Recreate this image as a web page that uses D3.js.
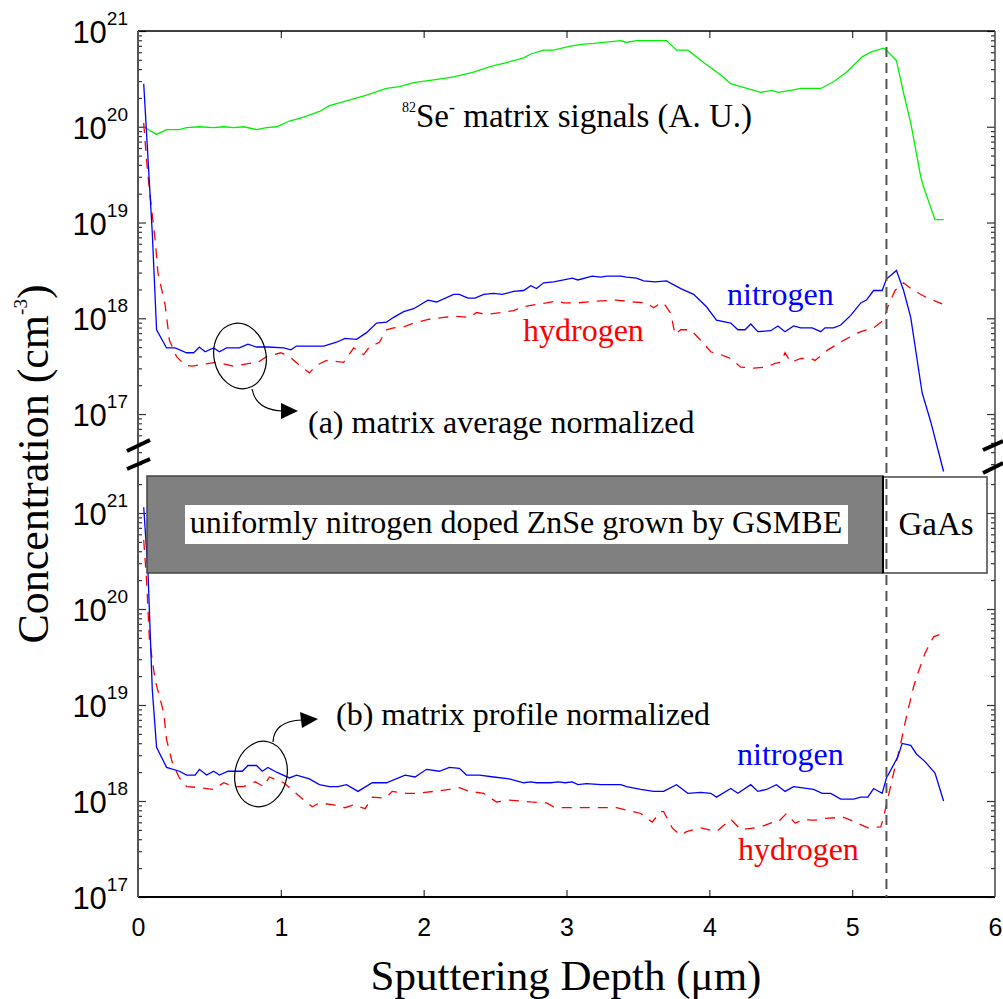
<!DOCTYPE html>
<html>
<head>
<meta charset="utf-8">
<script src="https://cdn.jsdelivr.net/npm/d3@7"></script>
<style>
  body { margin: 0; background: #fff; }
</style>
</head>
<body>
<svg id="chart" width="1003" height="999"></svg>
<script>
// values: depth in um, log10 of concentration (cm^-3)
var seDepth = [0.04,0.13,0.20,0.29,0.34,0.43,0.53,0.60,0.67,0.74,0.83,0.90,0.97,1.06,1.16,1.27,1.34,1.46,1.60,1.74,1.83,1.93,2.07,2.21,2.35,2.47,2.58,2.70,2.75,2.84,2.91,3.02,3.10,3.19,3.38,3.42,3.49,3.70,3.77,3.85,3.96,4.08,4.15,4.22,4.36,4.44,4.48,4.57,4.64,4.78,4.87,4.96,5.07,5.13,5.22,5.24,5.31,5.36,5.41,5.48,5.50,5.58,5.64];
var seLog   = [20.00,19.92,19.97,19.97,19.99,20.00,19.99,20.00,19.99,20.00,19.97,19.99,20.00,20.06,20.10,20.16,20.22,20.27,20.33,20.40,20.42,20.46,20.49,20.52,20.57,20.63,20.67,20.72,20.76,20.80,20.80,20.84,20.86,20.87,20.90,20.88,20.90,20.90,20.80,20.80,20.67,20.54,20.45,20.42,20.36,20.38,20.36,20.38,20.40,20.40,20.47,20.57,20.73,20.78,20.82,20.80,20.69,20.35,20.04,19.48,19.37,19.03,19.03];

var avgNDepth = [0.04,0.10,0.13,0.20,0.26,0.34,0.39,0.43,0.47,0.53,0.57,0.62,0.71,0.77,0.83,0.91,1.02,1.07,1.11,1.20,1.30,1.39,1.45,1.53,1.60,1.67,1.74,1.79,1.86,1.93,2.03,2.09,2.21,2.25,2.31,2.36,2.42,2.49,2.55,2.63,2.70,2.75,2.79,2.84,2.91,2.98,3.04,3.08,3.18,3.24,3.28,3.38,3.42,3.49,3.54,3.62,3.70,3.80,3.89,3.98,4.05,4.15,4.20,4.25,4.29,4.34,4.43,4.48,4.53,4.59,4.64,4.72,4.78,4.81,4.87,4.92,4.99,5.06,5.10,5.15,5.21,5.24,5.31,5.36,5.41,5.49,5.55,5.64];
var avgNLog   = [20.45,18.89,17.88,17.69,17.69,17.64,17.64,17.70,17.65,17.69,17.65,17.69,17.69,17.73,17.70,17.70,17.69,17.67,17.71,17.71,17.71,17.75,17.79,17.78,17.85,17.95,17.96,18.01,18.07,18.10,18.19,18.17,18.25,18.25,18.21,18.21,18.25,18.26,18.25,18.28,18.29,18.34,18.31,18.37,18.38,18.40,18.42,18.40,18.44,18.43,18.44,18.44,18.43,18.42,18.39,18.38,18.39,18.31,18.25,18.12,17.98,17.95,17.88,17.88,17.94,17.86,17.87,17.92,17.86,17.92,17.90,17.90,17.86,17.90,17.90,17.93,18.03,18.16,18.19,18.29,18.29,18.41,18.50,18.29,18.01,17.22,16.92,16.40];

var avgHDepth = [0.04,0.06,0.08,0.12,0.14,0.19,0.22,0.27,0.33,0.38,0.46,0.55,0.67,0.78,0.84,0.90,1.00,1.06,1.13,1.20,1.25,1.32,1.44,1.51,1.58,1.62,1.69,1.74,1.79,1.86,1.93,2.04,2.14,2.23,2.32,2.37,2.44,2.54,2.63,2.70,2.77,2.86,2.93,2.98,3.07,3.21,3.35,3.47,3.56,3.61,3.66,3.68,3.73,3.76,3.80,3.87,3.94,4.01,4.08,4.15,4.22,4.31,4.40,4.46,4.50,4.53,4.57,4.64,4.71,4.74,4.83,4.94,5.06,5.15,5.22,5.25,5.30,5.36,5.43,5.53,5.63];
var avgHLog   = [20.04,19.65,19.34,18.82,18.47,18.14,17.77,17.60,17.51,17.50,17.52,17.54,17.50,17.53,17.54,17.60,17.64,17.60,17.51,17.43,17.51,17.56,17.54,17.69,17.62,17.70,17.75,17.88,17.90,17.91,17.95,17.99,18.01,18.02,18.01,18.06,18.04,18.06,18.08,18.12,18.14,18.16,18.18,18.16,18.16,18.18,18.19,18.17,18.16,18.11,18.16,18.16,18.05,17.83,17.88,17.88,17.77,17.65,17.62,17.58,17.49,17.48,17.49,17.53,17.54,17.64,17.54,17.58,17.58,17.56,17.67,17.77,17.86,17.90,17.98,18.12,18.29,18.37,18.29,18.21,18.15];

var proNDepth = [0.04,0.07,0.10,0.13,0.20,0.29,0.34,0.40,0.43,0.48,0.53,0.57,0.63,0.73,0.77,0.83,0.87,0.91,0.97,1.06,1.11,1.20,1.27,1.34,1.40,1.46,1.54,1.64,1.74,1.87,1.94,2.02,2.11,2.18,2.25,2.30,2.39,2.49,2.60,2.70,2.75,2.79,2.89,2.94,2.99,3.04,3.08,3.14,3.24,3.38,3.42,3.52,3.61,3.68,3.77,3.85,3.94,4.01,4.05,4.15,4.20,4.29,4.34,4.40,4.47,4.53,4.59,4.73,4.79,4.85,4.92,5.01,5.06,5.11,5.15,5.21,5.24,5.32,5.35,5.41,5.45,5.51,5.58,5.64];
var proNLog   = [21.06,20.38,19.16,18.56,18.35,18.31,18.27,18.27,18.33,18.27,18.31,18.27,18.31,18.31,18.37,18.37,18.31,18.35,18.30,18.24,18.27,18.23,18.17,18.15,18.15,18.17,18.10,18.19,18.19,18.27,18.25,18.33,18.31,18.35,18.34,18.27,18.27,18.25,18.23,18.19,18.20,18.19,18.19,18.20,18.19,18.20,18.17,18.18,18.17,18.17,18.15,18.12,18.10,18.10,18.17,18.08,18.09,18.08,18.04,18.13,18.08,18.17,18.10,18.12,18.17,18.10,18.15,18.12,18.08,18.08,18.02,18.02,18.04,18.04,18.13,18.08,18.24,18.46,18.60,18.58,18.49,18.41,18.29,18.00];

var proHDepth = [0.04,0.06,0.08,0.12,0.18,0.20,0.24,0.29,0.34,0.43,0.53,0.60,0.67,0.74,0.82,0.88,0.92,1.02,1.09,1.16,1.22,1.27,1.37,1.45,1.51,1.59,1.64,1.73,1.78,1.88,1.96,2.07,2.18,2.25,2.32,2.42,2.51,2.60,2.75,2.86,2.91,2.98,3.07,3.24,3.35,3.52,3.60,3.66,3.68,3.74,3.80,3.84,3.94,4.05,4.15,4.22,4.36,4.45,4.48,4.54,4.60,4.67,4.71,4.74,4.81,4.94,4.99,5.11,5.20,5.22,5.25,5.29,5.34,5.38,5.43,5.46,5.51,5.57,5.64];
var proHLog   = [20.72,20.30,19.68,19.26,18.92,18.64,18.40,18.24,18.15,18.14,18.12,18.19,18.15,18.15,18.20,18.15,18.25,18.19,18.10,18.01,17.94,17.98,17.96,17.93,17.96,17.92,18.04,18.03,18.10,18.08,18.08,18.10,18.12,18.14,18.10,18.08,17.99,18.01,17.99,17.98,17.94,17.93,17.93,17.93,17.93,17.87,17.78,17.89,17.89,17.72,17.64,17.68,17.72,17.68,17.81,17.70,17.73,17.78,17.78,17.87,17.77,17.81,17.80,17.80,17.82,17.83,17.80,17.72,17.73,17.83,18.03,18.29,18.60,18.88,19.19,19.33,19.54,19.71,19.75];

var depthTicks = [0, 1, 2, 3, 4, 5, 6];
var interfaceDepth = 5.24;

var svg = d3.select("#chart");
var serif = '"Liberation Serif", "Times New Roman", serif';
var sans = '"Liberation Sans", Arial, sans-serif';

var plotL = 138, plotR = 995, plotT = 31, plotB = 897;

var x = d3.scaleLinear().domain([0, 6]).range([plotL, plotR]);
var yTop = d3.scaleLog().domain([Math.pow(10, 16.4), 1e21]).range([471.5, plotT]);
var yBot = d3.scaleLog().domain([1e17, Math.pow(10, 21.4)]).range([plotB, 474.6]);

function pts(depth, logs) {
  return depth.map(function(d, i) { return [d, Math.pow(10, logs[i])]; });
}

// ---- y axes (ticks on both sides, pointing inward) ----
function yTicks(y) {
  var all = y.ticks();
  var major = all.filter(function(v) { return Math.abs(Math.log10(v) - Math.round(Math.log10(v))) < 1e-6; });
  var minor = all.filter(function(v) { return major.indexOf(v) < 0; });
  return {major: major, minor: minor};
}

function drawYAxis(y) {
  var t = yTicks(y);
  [[plotL, d3.axisRight], [plotR, d3.axisLeft]].forEach(function(s) {
    var gMaj = svg.append("g").attr("transform", "translate(" + s[0] + ",0)")
      .call(s[1](y).tickValues(t.major).tickSize(8).tickFormat(""));
    var gMin = svg.append("g").attr("transform", "translate(" + s[0] + ",0)")
      .call(s[1](y).tickValues(t.minor).tickSize(4).tickFormat(""));
    [gMaj, gMin].forEach(function(g) {
      g.select(".domain").remove();
      g.selectAll("line").attr("stroke", "#333").attr("stroke-width", 1.2);
    });
  });
  // labels 10^n
  t.major.forEach(function(v) {
    var yy = y(v);
    var txt = svg.append("text")
      .attr("x", 128).attr("y", yy + 12)
      .attr("text-anchor", "end")
      .style("font-family", sans).style("font-size", "31px");
    txt.append("tspan").text("10");
    txt.append("tspan").attr("dy", -18).style("font-size", "19px")
      .text(Math.round(Math.log10(v)));
  });
}
drawYAxis(yTop);
drawYAxis(yBot);

// ---- x axes ----
var xb = svg.append("g").attr("transform", "translate(0," + plotB + ")")
  .call(d3.axisBottom(x).tickValues(depthTicks).tickFormat(d3.format("d"))
    .tickSizeInner(-7).tickSizeOuter(0).tickPadding(21));
xb.select(".domain").remove();
xb.selectAll("line").attr("stroke", "#333").attr("stroke-width", 1.2)
  .filter(function(d) { return d === 0 || d === 6; }).remove();
xb.selectAll("text").style("font-family", sans).style("font-size", "25px").attr("fill", "#000");

var xt = svg.append("g").attr("transform", "translate(0," + plotT + ")")
  .call(d3.axisTop(x).tickValues([1, 2, 3, 4, 5]).tickSizeInner(-7).tickSizeOuter(0).tickFormat(""));
xt.select(".domain").remove();
xt.selectAll("line").attr("stroke", "#333").attr("stroke-width", 1.2);

// ---- frame ----
svg.append("line").attr("x1", plotL).attr("x2", plotR).attr("y1", plotT).attr("y2", plotT)
  .attr("stroke", "#000").attr("stroke-width", 1.5);
svg.append("line").attr("x1", plotL).attr("x2", plotR).attr("y1", plotB).attr("y2", plotB)
  .attr("stroke", "#000").attr("stroke-width", 2);
svg.append("line").attr("x1", plotL).attr("x2", plotL).attr("y1", plotT).attr("y2", plotB)
  .attr("stroke", "#555").attr("stroke-width", 2);
svg.append("line").attr("x1", plotR).attr("x2", plotR).attr("y1", plotT).attr("y2", plotB)
  .attr("stroke", "#444").attr("stroke-width", 1.5);

// axis break marks
[[127, 451, 150, 440], [127, 469, 150, 459], [983, 450, 1003, 441], [983, 473, 1003, 463]].forEach(function(b) {
  svg.append("line").attr("x1", b[0]).attr("y1", b[1]).attr("x2", b[2]).attr("y2", b[3])
    .attr("stroke", "#000").attr("stroke-width", 4);
});

// ---- curves ----
function drawLine(data, y, color, dash) {
  var line = d3.line().x(function(d) { return x(d[0]); }).y(function(d) { return y(d[1]); });
  svg.append("path").datum(data)
    .attr("d", line)
    .attr("fill", "none")
    .attr("stroke", color)
    .attr("stroke-width", 1.3)
    .attr("stroke-dasharray", dash || null);
}
drawLine(pts(seDepth, seLog), yTop, "#00f000");
drawLine(pts(avgHDepth, avgHLog), yTop, "#ff0000", "10,8");
drawLine(pts(avgNDepth, avgNLog), yTop, "#0000ff");
drawLine(pts(proHDepth, proHLog), yBot, "#ff0000", "10,8");
drawLine(pts(proNDepth, proNLog), yBot, "#0000ff");

// ---- layer boxes ----
svg.append("rect").attr("x", 147).attr("y", 476).attr("width", 883 - 147).attr("height", 573 - 476)
  .attr("fill", "#808080").attr("stroke", "#444").attr("stroke-width", 1.5);
svg.append("rect").attr("x", 883).attr("y", 477).attr("width", 987 - 883).attr("height", 573 - 477)
  .attr("fill", "#fff").attr("stroke", "#444").attr("stroke-width", 1.5);
svg.append("line").attr("x1", 883).attr("x2", 883).attr("y1", 476).attr("y2", 573)
  .attr("stroke", "#000").attr("stroke-width", 2);
svg.append("rect").attr("x", 185).attr("y", 505).attr("width", 663).attr("height", 39).attr("fill", "#fff");
svg.append("text").attr("x", 516).attr("y", 533).attr("text-anchor", "middle")
  .style("font-family", serif).style("font-size", "32px").text("uniformly nitrogen doped ZnSe grown by GSMBE");
svg.append("text").attr("x", 936).attr("y", 535).attr("text-anchor", "middle")
  .style("font-family", serif).style("font-size", "33px").text("GaAs");

// interface line
svg.append("line").attr("x1", x(interfaceDepth)).attr("x2", x(interfaceDepth)).attr("y1", plotT).attr("y2", plotB)
  .attr("stroke", "#555").attr("stroke-width", 2).attr("stroke-dasharray", "10,6");

// ---- annotations ----
var se = svg.append("text").attr("x", 402).attr("y", 127)
  .style("font-family", serif).style("font-size", "33px");
se.append("tspan").attr("dy", -15).style("font-size", "14px").text("82");
se.append("tspan").attr("dy", 15).text("Se");
se.append("tspan").attr("dy", -14).style("font-size", "18px").text("-");
se.append("tspan").attr("dy", 14).text(" matrix signals (A. U.)");

function label(tx, ty, s, color) {
  svg.append("text").attr("x", tx).attr("y", ty)
    .style("font-family", serif).style("font-size", "32px")
    .attr("fill", color || "#000").text(s);
}
label(727, 305, "nitrogen", "#0000ff");
label(523, 341, "hydrogen", "#ff0000");
label(308, 433, "(a) matrix average normalized");
label(336, 725, "(b) matrix profile normalized");
label(737, 765, "nitrogen", "#0000ff");
label(738, 860, "hydrogen", "#ff0000");

// ellipses with arrows
svg.append("ellipse").attr("cx", 240).attr("cy", 356).attr("rx", 26).attr("ry", 33)
  .attr("transform", "rotate(-12,240,356)")
  .attr("fill", "none").attr("stroke", "#000").attr("stroke-width", 1.2);
svg.append("path").attr("d", "M252,389 Q256,410 283,411")
  .attr("fill", "none").attr("stroke", "#000").attr("stroke-width", 1.2);
svg.append("path").attr("d", "M281,403 L298,411 L281,419 Z").attr("fill", "#000");

svg.append("ellipse").attr("cx", 261).attr("cy", 774).attr("rx", 26).attr("ry", 33)
  .attr("transform", "rotate(12,261,774)")
  .attr("fill", "none").attr("stroke", "#000").attr("stroke-width", 1.2);
svg.append("path").attr("d", "M273,742 Q274,721 302,720")
  .attr("fill", "none").attr("stroke", "#000").attr("stroke-width", 1.2);
svg.append("path").attr("d", "M300,712 L318,719 L302,728 Z").attr("fill", "#000");

// ---- axis titles ----
svg.append("text").attr("x", 566).attr("y", 990).attr("text-anchor", "middle")
  .style("font-family", serif).style("font-size", "43px").text("Sputtering Depth (\u03bcm)");

var yt = svg.append("text").attr("transform", "translate(48,464) rotate(-90)")
  .attr("text-anchor", "middle")
  .style("font-family", serif).style("font-size", "44px");
yt.append("tspan").text("Concentration (cm");
yt.append("tspan").attr("dy", -21).style("font-size", "19px").text("-3");
yt.append("tspan").attr("dy", 21).text(")");
</script>
</body>
</html>
